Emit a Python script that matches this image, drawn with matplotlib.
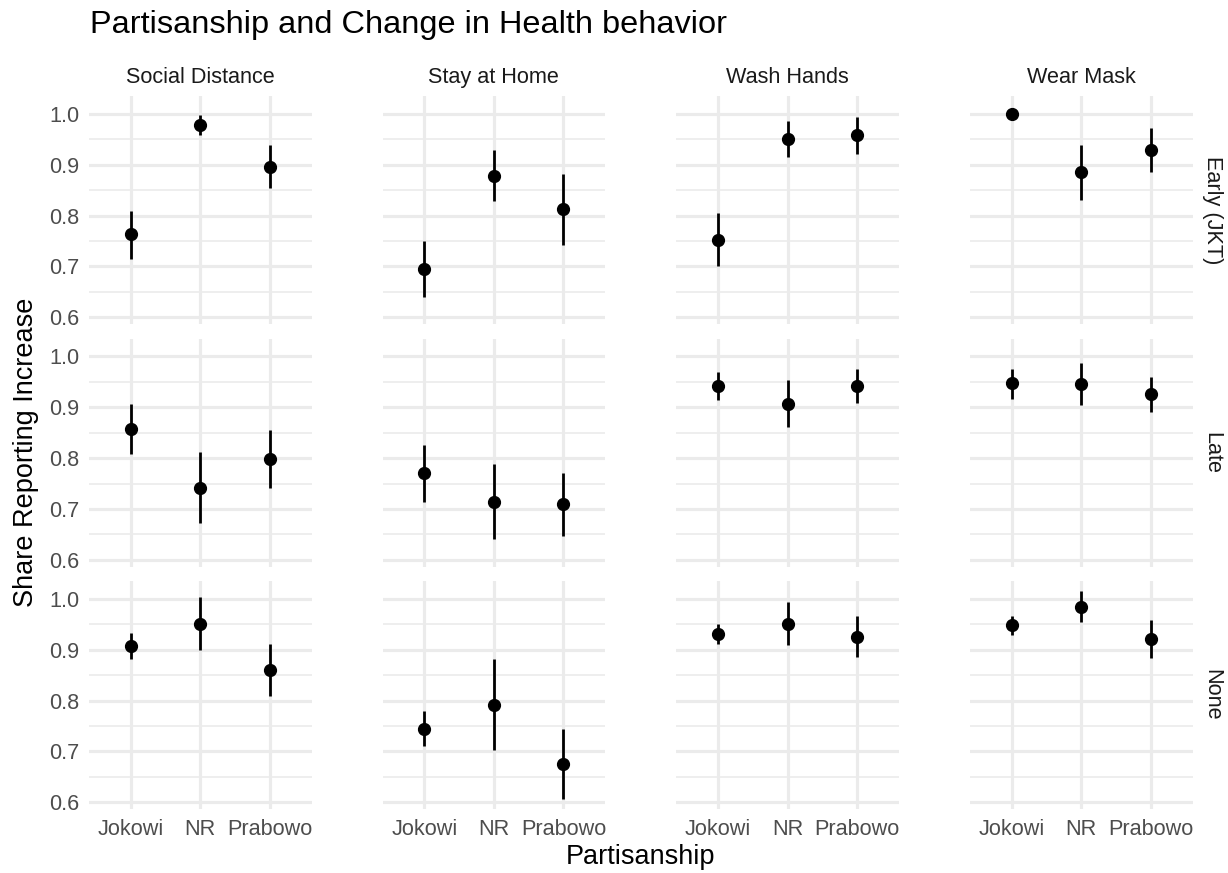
import matplotlib.pyplot as plt
import numpy as np

plt.rcParams['font.family'] = ['Liberation Sans', 'DejaVu Sans']

behaviors = ['Social Distance', 'Stay at Home', 'Wash Hands', 'Wear Mask']
timings = ['Early (JKT)', 'Late', 'None']
parties = ['Jokowi', 'NR', 'Prabowo']

# share reporting increase with interval, one inner list per behavior (Jokowi, NR, Prabowo)
early_est = [[0.763, 0.979, 0.896], [0.695, 0.878, 0.812], [0.753, 0.950, 0.958], [1.000, 0.885, 0.929]]
early_lo = [[0.714, 0.958, 0.855], [0.641, 0.828, 0.743], [0.701, 0.915, 0.922], [1.000, 0.831, 0.886]]
early_hi = [[0.810, 0.998, 0.939], [0.750, 0.929, 0.882], [0.805, 0.985, 0.993], [1.000, 0.939, 0.972]]

late_est = [[0.858, 0.742, 0.799], [0.770, 0.714, 0.709], [0.942, 0.907, 0.942], [0.948, 0.946, 0.925]]
late_lo = [[0.809, 0.672, 0.742], [0.713, 0.641, 0.647], [0.914, 0.861, 0.908], [0.917, 0.905, 0.890]]
late_hi = [[0.906, 0.812, 0.856], [0.825, 0.788, 0.771], [0.969, 0.953, 0.975], [0.976, 0.986, 0.959]]

none_est = [[0.907, 0.951, 0.861], [0.745, 0.791, 0.676], [0.931, 0.951, 0.925], [0.948, 0.984, 0.921]]
none_lo = [[0.882, 0.900, 0.810], [0.710, 0.702, 0.607], [0.912, 0.909, 0.885], [0.929, 0.955, 0.884]]
none_hi = [[0.932, 1.004, 0.912], [0.780, 0.881, 0.744], [0.950, 0.993, 0.967], [0.966, 1.015, 0.958]]

est_rows = [early_est, late_est, none_est]
lo_rows = [early_lo, late_lo, none_lo]
hi_rows = [early_hi, late_hi, none_hi]

W, H = 1228, 873
fig = plt.figure(figsize=(W / 100, H / 100), dpi=100)
fig.patch.set_facecolor('white')

grid_col = '#EBEBEB'
pw, ph = 222.5, 228
x = np.arange(len(parties))

for r in range(3):
    for c in range(4):
        left = 89 + c * 293.67
        top = 96 + r * 242.5
        ax = fig.add_axes([left / W, 1 - (top + ph) / H, pw / W, ph / H])
        ax.vlines(x, lo_rows[r][c], hi_rows[r][c], color='black', lw=2.0,
                  capstyle='butt', zorder=3)
        ax.plot(x, est_rows[r][c], 'o', color='black', ms=8.5, zorder=4)
        ax.set_xlim(-0.6, 2.6)
        ax.set_ylim(0.587, 1.035)
        ax.set_xticks(x)
        ax.set_xticklabels(parties if r == 2 else [])
        ax.set_yticks([0.6, 0.7, 0.8, 0.9, 1.0])
        ax.set_yticks([0.65, 0.75, 0.85, 0.95], minor=True)
        ax.set_yticklabels(['0.6', '0.7', '0.8', '0.9', '1.0'] if c == 0 else [])
        ax.set_axisbelow(True)
        ax.grid(which='major', color=grid_col, lw=2.3)
        ax.grid(which='minor', axis='y', color=grid_col, lw=1.2)
        ax.tick_params(which='both', length=0, labelsize=15.6, colors='#4D4D4D', pad=7)
        for s in ax.spines.values():
            s.set_visible(False)

        if r == 0:
            fig.text((left + pw / 2) / W, 1 - 83 / H, behaviors[c], fontsize=15.6,
                     color='#1A1A1A', ha='center', va='baseline')
        if c == 3:
            fig.text(1212 / W, 1 - (top + ph / 2) / H, timings[r], fontsize=15.6,
                     color='#1A1A1A', rotation=270, ha='center', va='center')

fig.text(90 / W, 1 - 33 / H, 'Partisanship and Change in Health behavior',
         fontsize=23.4, ha='left', va='baseline')
fig.text(26 / W, 1 - 452.5 / H, 'Share Reporting Increase', fontsize=19.5,
         rotation=90, ha='center', va='center')
fig.text(640 / W, 1 - 864 / H, 'Partisanship', fontsize=19.5, ha='center', va='baseline')

fig.savefig('out.png', dpi=100)
